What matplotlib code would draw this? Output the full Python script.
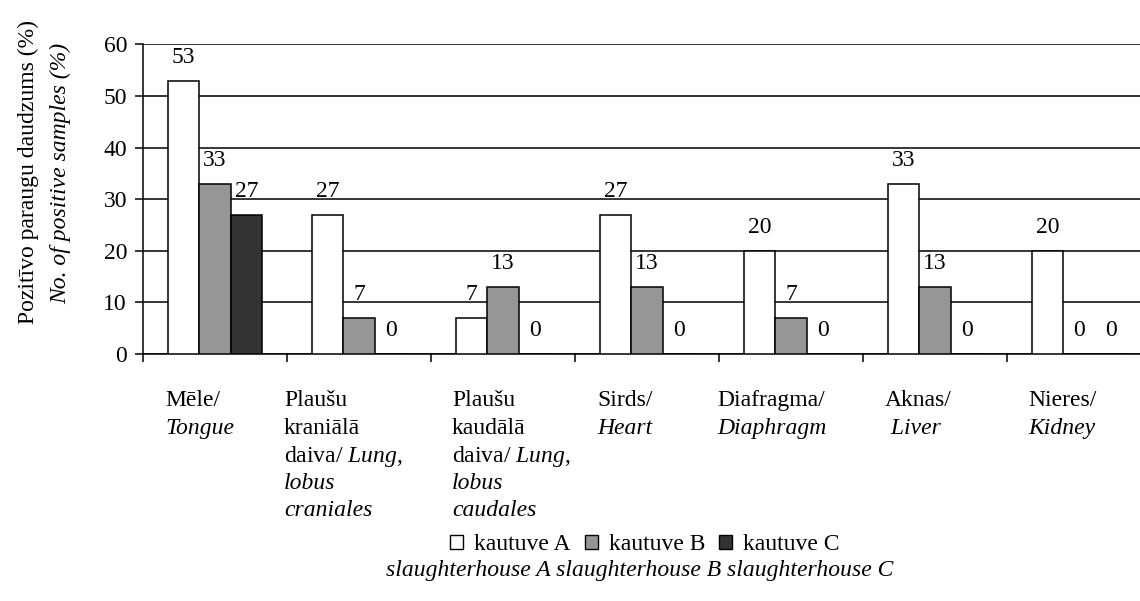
import matplotlib
matplotlib.use("Agg")
import matplotlib.pyplot as plt
import numpy as np
from matplotlib.patches import Patch

plt.rcParams['font.family'] = ['Liberation Serif', 'DejaVu Serif']
plt.rcParams['mathtext.fontset'] = 'custom'
plt.rcParams['mathtext.rm'] = 'Liberation Serif'
plt.rcParams['mathtext.it'] = 'Liberation Serif:italic'

# data
series_names = ["kautuve A", "kautuve B", "kautuve C"]
kautuve_a = [53, 27, 7, 27, 20, 33, 20]
kautuve_b = [33, 7, 13, 13, 7, 13, 0]
kautuve_c = [27, 0, 0, 0, 0, 0, 0]
colors = ["white", "#969696", "#333333"]

# category labels: (text, style) per line
cat_labels = [
    [("Mēle/", "normal"), ("Tongue", "italic")],
    [("Plaušu", "normal"), ("kraniālā", "normal"), (r"daiva/ $\mathit{Lung}$,", "normal"),
     ("lobus", "italic"), ("craniales", "italic")],
    [("Plaušu", "normal"), ("kaudālā", "normal"), (r"daiva/ $\mathit{Lung}$,", "normal"),
     ("lobus", "italic"), ("caudales", "italic")],
    [("Sirds/", "normal"), ("Heart", "italic")],
    [("Diafragma/", "normal"), ("Diaphragm", "italic")],
    [("Aknas/", "normal"), (" Liver", "italic")],
    [("Nieres/", "normal"), ("Kidney", "italic")],
]
# left edge of each label block, in px from the category centre
label_dx = [-50, -75, -51, -50, -74, -50, -51]
line_dy = [52, 80, 108, 135, 162]

fs = 17
fig = plt.figure(figsize=(11.4, 6.01), dpi=100)
ax = fig.add_axes([143/1140, 247/601, 1008/1140, 309.6/601])

x = np.arange(len(kautuve_a))
w = 0.219
for i, vals in enumerate([kautuve_a, kautuve_b, kautuve_c]):
    pos = x + (i - 1) * w
    ax.bar(pos, vals, width=w, color=colors[i], edgecolor="black", linewidth=1.1, zorder=3)
    for p, v in zip(pos, vals):
        ax.annotate(str(v), (p, v), xytext=(0, 12.6), textcoords="offset points",
                    ha="center", va="baseline", fontsize=fs, zorder=4)

ax.set_xlim(-0.5, 6.5)
ax.set_ylim(0, 60)
ax.set_yticks(np.arange(0, 61, 10))
ax.tick_params(axis="y", labelsize=fs, length=6, width=1.1, pad=5.5)
ax.set_xticks(np.arange(-0.5, 7, 1))
ax.set_xticklabels([])
ax.tick_params(axis="x", length=6, width=1.1, direction="out")
ax.yaxis.grid(True, color="black", linewidth=1.1, zorder=0)
ax.set_axisbelow(True)
for s in ["top", "right"]:
    ax.spines[s].set_visible(False)
ax.spines["left"].set_linewidth(1.1)
ax.spines["bottom"].set_linewidth(1.1)

for i, lines in enumerate(cat_labels):
    for j, (txt, st) in enumerate(lines):
        ax.annotate(txt, (x[i], 0), xytext=(label_dx[i]*0.72, -line_dy[j]*0.72),
                    textcoords="offset points", ha="left", va="baseline",
                    fontsize=fs, fontstyle=st, annotation_clip=False)

fig.text(28/1140, 1 - 172/601, "Pozitīvo paraugu daudzums (%)", rotation=90,
         ha="center", va="center", fontsize=fs)
fig.text(61/1140, 1 - 173/601, "No. of positive samples (%)", rotation=90,
         ha="center", va="center", fontsize=fs, fontstyle="italic")

handles = [Patch(facecolor=c, edgecolor="black", linewidth=1.0) for c in colors]
fig.legend(handles, series_names, loc="center", bbox_to_anchor=(645/1140, 1 - 545/601),
           ncol=3, frameon=False, fontsize=fs, handlelength=0.55, handleheight=0.55,
           handletextpad=0.47, columnspacing=0.6, borderpad=0, borderaxespad=0)
fig.text(640/1140, 1 - 576/601, "slaughterhouse A slaughterhouse B slaughterhouse C",
         ha="center", va="baseline", fontsize=fs, fontstyle="italic")

fig.savefig("out.png", dpi=100)
